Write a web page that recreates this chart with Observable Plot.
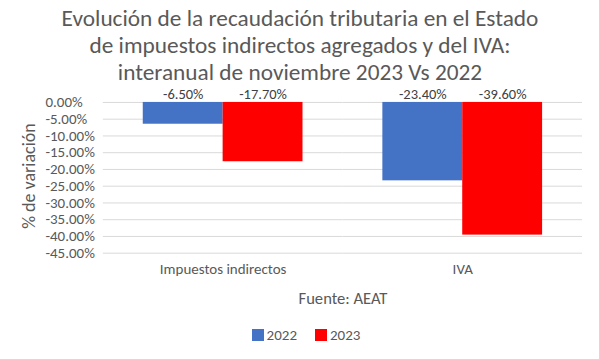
<!DOCTYPE html>
<html><head><meta charset="utf-8">
<script src="https://cdn.jsdelivr.net/npm/d3@7"></script>
<script src="https://cdn.jsdelivr.net/npm/@observablehq/plot@0.6"></script>
<style>
body{margin:0;background:#fff;}
#wrap{position:relative;width:599px;height:359px;border-right:1px solid #d9d9d9;border-bottom:1px solid #d9d9d9;overflow:hidden;font-family:Carlito,Lato,sans-serif;color:#595959;}
#title{position:absolute;top:5px;left:0;width:600px;text-align:center;font-size:23.3px;line-height:27px;}
#chart{position:absolute;top:70px;left:0;}
#ylab{position:absolute;left:29px;top:176px;transform:translate(-50%,-50%) rotate(-90deg);font-size:18px;white-space:nowrap;}
#xlab{position:absolute;top:288px;left:103px;width:480px;text-align:center;font-size:16.6px;}
#legend{position:absolute;top:318px;left:0;width:600px;}
.lg-swatch{margin-right:18px !important;}
.lg-swatch > svg{margin-right:3px !important;}
</style></head>
<body><div id="wrap">
<div id="title">Evolución de la recaudación tributaria en el Estado<br>de impuestos indirectos agregados y del IVA:<br>interanual de noviembre 2023 Vs 2022</div>
<div id="chart"></div>
<div id="ylab">% de variación</div>
<div id="xlab">Fuente: AEAT</div>
<div id="legend"></div>
</div>
<script>
const categories = ["Impuestos indirectos", "IVA"];
const years = ["2022", "2023"];
const values2022 = [-6.5, -23.4];
const values2023 = [-17.7, -39.6];
const yTicks = [0, -5, -10, -15, -20, -25, -30, -35, -40, -45];
const colors = ["#4472C4", "#FF0000"];

const data = [];
categories.forEach((c, i) => {
  data.push({cat: c, year: years[0], value: values2022[i]});
  data.push({cat: c, year: years[1], value: values2023[i]});
});
const fmt = v => v.toFixed(2) + "%";
const font = "Carlito, Lato, sans-serif";

const chart = Plot.plot({
  width: 600, height: 215,
  marginTop: 32, marginBottom: 32, marginLeft: 103, marginRight: 17,
  style: {fontFamily: font, color: "#595959", fontSize: "15px", background: "transparent"},
  fx: {domain: categories, padding: 0},
  x: {domain: years, paddingInner: 0, paddingOuter: 0.5, axis: null},
  y: {domain: [-45, 0]},
  color: {domain: years, range: colors},
  marks: [
    Plot.gridY(yTicks, {stroke: "#d9d9d9", strokeOpacity: 1, strokeWidth: 1}),
    Plot.barY(data, {fx: "cat", x: "year", y: "value", fill: "year"}),
    Plot.text(data, {fx: "cat", x: "year", y: () => 0, text: d => fmt(d.value), dy: -8, fill: "#404040", fontSize: 14.5}),
    Plot.axisY(yTicks, {tickSize: 0, tickPadding: 58, textAnchor: "start", tickFormat: fmt, label: null, fontSize: 15, fill: "#595959"}),
    Plot.axisFx({anchor: "bottom", tickSize: 0, tickPadding: 10, label: null, fontSize: 15, fill: "#595959"})
  ]
});
document.getElementById("chart").appendChild(chart);

const lg = Plot.legend({
  color: {domain: years, range: colors},
  legend: "swatches",
  swatchSize: 12,
  className: "lg",
  style: {fontFamily: font, fontSize: "15px", color: "#595959", marginLeft: "30px"}
});
lg.style.justifyContent = "center";
document.getElementById("legend").appendChild(lg);
</script>
</body></html>
